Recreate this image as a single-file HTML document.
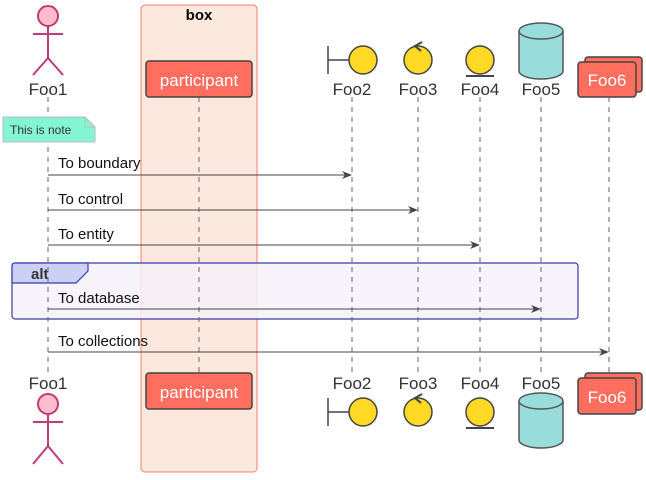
<!DOCTYPE html>
<html><head><style>
html,body{margin:0;padding:0;background:#fff;}
svg{display:block;font-family:"Liberation Sans",sans-serif;}
</style></head><body>
<svg width="646" height="480" viewBox="0 0 646 480" xmlns="http://www.w3.org/2000/svg">
<defs>
<marker id="ah" markerWidth="10" markerHeight="8" refX="9" refY="4" orient="auto" markerUnits="userSpaceOnUse">
<path d="M0,0 L10,4 L0,8 L3,4 Z" fill="#444"/>
</marker>
</defs>
<!-- box -->
<rect x="141" y="5" width="116" height="467" rx="4" fill="#fde8dd" stroke="#f87c6a" stroke-width="1"/>
<text x="199" y="20" font-size="15" font-weight="bold" text-anchor="middle" fill="#000">box</text>
<!-- alt -->
<rect x="12" y="263" width="566" height="56" rx="3" fill="#f4f1f9" fill-opacity="0.85" stroke="#3a3aa8" stroke-width="1.2"/>
<path d="M12,283 L76,283 L88,271 L88,263 L15,263 Q12,263 12,266 Z" fill="#cdd0f5" stroke="#3a3aa8" stroke-width="1.2"/>
<text x="31" y="279" font-size="15" font-weight="bold" fill="#333">alt</text>
<!-- lifelines -->
<g stroke="#666" stroke-width="1" stroke-dasharray="5,5">
<line x1="48" y1="97" x2="48" y2="372"/>
<line x1="199" y1="97" x2="199" y2="372"/>
<line x1="352" y1="97" x2="352" y2="372"/>
<line x1="418" y1="97" x2="418" y2="372"/>
<line x1="480" y1="97" x2="480" y2="372"/>
<line x1="541" y1="97" x2="541" y2="372"/>
<line x1="609" y1="97" x2="609" y2="372"/>
</g>
<!-- note -->
<path d="M3,117 L85,117 L95,127 L95,142 L3,142 Z" fill="#84f5d2" stroke="#bbb"/>
<path d="M85,117 L85,127 L95,127" fill="none" stroke="#bbb"/>
<text x="10" y="134" font-size="12" fill="#333">This is note</text>
<!-- messages -->
<g stroke="#444" stroke-width="1" marker-end="url(#ah)">
<line x1="48" y1="175" x2="351" y2="175"/>
<line x1="48" y1="210" x2="417" y2="210"/>
<line x1="48" y1="245" x2="479" y2="245"/>
<line x1="48" y1="309" x2="540" y2="309"/>
<line x1="48" y1="352" x2="608" y2="352"/>
</g>
<g font-size="15" fill="#111">
<text x="58" y="168">To boundary</text>
<text x="58" y="204">To control</text>
<text x="58" y="239">To entity</text>
<text x="58" y="303">To database</text>
<text x="58" y="346">To collections</text>
</g>
<!-- labels -->
<g font-size="17" fill="#333" text-anchor="middle">
<text x="48" y="95">Foo1</text>
<text x="352" y="95">Foo2</text>
<text x="418" y="95">Foo3</text>
<text x="480" y="95">Foo4</text>
<text x="541" y="95">Foo5</text>
<text x="48" y="389">Foo1</text>
<text x="352" y="389">Foo2</text>
<text x="418" y="389">Foo3</text>
<text x="480" y="389">Foo4</text>
<text x="541" y="389">Foo5</text>
</g>
<!-- actors -->
<g stroke="#c0397a" stroke-width="2" fill="none">
<circle cx="48" cy="16" r="10" fill="#ffbccd"/>
<line x1="48" y1="26" x2="48" y2="58"/><line x1="33" y1="34" x2="63" y2="34"/>
<path d="M33,75 L48,58 L63,75"/>
<circle cx="48" cy="404" r="10" fill="#ffbccd"/>
<line x1="48" y1="414" x2="48" y2="446"/><line x1="33" y1="422" x2="63" y2="422"/>
<path d="M33,464 L48,446 L63,464"/>
</g>
<!-- participant -->
<g>
<rect x="146" y="61" width="106" height="36" rx="3" fill="#ff6e5e" stroke="#444" stroke-width="1.5"/>
<text x="199" y="86" font-size="17" fill="#fff" text-anchor="middle">participant</text>
<rect x="146" y="373" width="106" height="36" rx="3" fill="#ff6e5e" stroke="#444" stroke-width="1.5"/>
<text x="199" y="398" font-size="17" fill="#fff" text-anchor="middle">participant</text>
</g>
<!-- icons top/bottom -->
<g stroke="#444" stroke-width="1.5" fill="#ffd924">
<line x1="328" y1="46" x2="328" y2="74" fill="none"/><line x1="328" y1="60" x2="349" y2="60"/>
<circle cx="363" cy="60" r="14"/>
<circle cx="418" cy="60" r="14"/>
<path d="M422,42 L415,46 L421,51" fill="none" stroke-width="2"/>
<circle cx="480" cy="60" r="14"/>
<line x1="466" y1="76" x2="494" y2="76" stroke-width="2"/>
<line x1="328" y1="398" x2="328" y2="426" fill="none"/><line x1="328" y1="412" x2="349" y2="412"/>
<circle cx="363" cy="412" r="14"/>
<circle cx="418" cy="412" r="14"/>
<path d="M422,394 L415,398 L421,403" fill="none" stroke-width="2"/>
<circle cx="480" cy="412" r="14"/>
<line x1="466" y1="428" x2="494" y2="428" stroke-width="2"/>
</g>
<!-- database -->
<g stroke="#555" stroke-width="1.5" fill="#98dcdc">
<path d="M519,31 L519,71 A22,8 0 0 0 563,71 L563,31"/>
<ellipse cx="541" cy="31" rx="22" ry="8"/>
<path d="M519,401 L519,440 A22,8 0 0 0 563,440 L563,401"/>
<ellipse cx="541" cy="401" rx="22" ry="8"/>
</g>
<!-- collections -->
<g stroke="#444" stroke-width="1.5" fill="#ff6e5e">
<rect x="585" y="57" width="57" height="35" rx="3"/>
<rect x="578" y="62" width="58" height="35" rx="3"/>
<rect x="585" y="373" width="57" height="37" rx="3"/>
<rect x="578" y="378" width="58" height="36" rx="3"/>
</g>
<text x="607" y="86" font-size="17" fill="#fff" text-anchor="middle">Foo6</text>
<text x="607" y="403" font-size="17" fill="#fff" text-anchor="middle">Foo6</text>
</svg>
</body></html>
